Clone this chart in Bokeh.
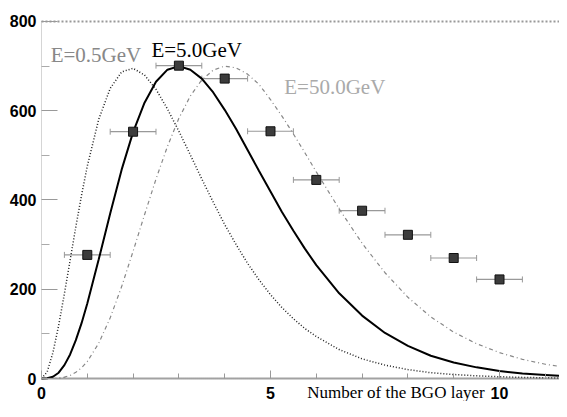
from bokeh.plotting import figure
from bokeh.models import (Range1d, FixedTicker, Label, Whisker, TeeHead,
                          ColumnDataSource, LinearAxis)
from bokeh.embed import file_html
from bokeh.resources import INLINE

# ---- data ----
layer = [1, 2, 3, 4, 5, 6, 7, 8, 9, 10]
layer_err = [0.5, 0.5, 0.5, 0.5, 0.5, 0.5, 0.5, 0.5, 0.5, 0.5]
measured = [277, 553, 701, 672, 554, 445, 376, 322, 270, 222]

curve_x = [0, 0.125, 0.25, 0.375, 0.5, 0.625, 0.75, 0.875, 1, 1.25, 1.5, 1.75,
           2, 2.25, 2.5, 2.75, 3, 3.25, 3.5, 3.75, 4, 4.25, 4.5, 4.75, 5, 5.25,
           5.5, 5.75, 6, 6.5, 7, 7.5, 8, 8.5, 9, 9.5, 10, 10.5, 11, 11.5]
curve_05 = [0, 15, 58, 119, 190, 265, 340, 411, 476, 581, 650, 687,
            695, 680, 648, 604, 554, 501, 447, 395, 345, 300, 258, 221, 188, 159,
            134, 112, 94, 65, 44, 30, 20, 13, 9, 6, 4, 2.5, 1.6, 1]
curve_5 = [0, 0.5, 4, 13, 30, 54, 86, 124, 168, 267, 370, 468,
           552, 618, 665, 692, 700, 692, 672, 641, 602, 559, 512, 465, 419, 373,
           331, 291, 254, 191, 141, 102, 73, 51, 36, 25, 17, 11, 8, 5]
curve_50 = [0, 0, 0, 1, 3, 7, 14, 24, 38, 79, 136, 206,
            285, 367, 447, 520, 583, 633, 669, 691, 700, 696, 682, 659, 625, 588,
            548, 506, 463, 380, 303, 237, 182, 138, 104, 78, 58, 43, 32, 24]

y_ticks = [0, 200, 400, 600, 800]
y_minor = [100, 300, 500, 700]
x_ticks = [0, 5, 10]
x_minor = [1, 2, 3, 4, 6, 7, 8, 9, 11]
x_max = 11.31
y_max = 800

# frame fills the whole canvas; axes are pinned at x=0 / y=0 inside it
p = figure(width=559, height=401, output_backend="svg", toolbar_location=None,
           x_range=Range1d(-0.895, x_max), y_range=Range1d(-51.5, 847),
           min_border_left=0, min_border_right=0, min_border_top=0,
           min_border_bottom=0)
p.xgrid.visible = False
p.ygrid.visible = False
p.outline_line_color = None
p.background_fill_color = "white"
p.border_fill_color = "white"

ya = p.yaxis[0]
ya.fixed_location = 0
ya.ticker = FixedTicker(ticks=y_ticks, minor_ticks=y_minor)
ya.bounds = (0, y_max)
ya.major_tick_in = 16
ya.major_tick_out = 0
ya.minor_tick_in = 8
ya.minor_tick_out = 0
ya.major_tick_line_color = "#999999"
ya.minor_tick_line_color = "#aaaaaa"
ya.axis_line_color = "#aaaaaa"
ya.axis_line_dash = "1 1"
ya.major_label_text_font = "Liberation Sans"
ya.major_label_text_font_style = "bold"
ya.major_label_text_font_size = "16px"
ya.major_label_text_color = "black"
ya.major_label_standoff = 5

xa = p.xaxis[0]
xa.fixed_location = 0
xa.bounds = (0, x_max)
xa.ticker = FixedTicker(ticks=x_ticks, minor_ticks=x_minor)
xa.major_tick_in = 8
xa.major_tick_out = 0
xa.minor_tick_in = 5
xa.minor_tick_out = 0
xa.major_tick_line_color = "#999999"
xa.minor_tick_line_color = "#999999"
xa.axis_line_color = "#444444"
xa.axis_line_width = 2
xa.axis_line_dash = "1 1"
xa.major_label_text_font = "Liberation Sans"
xa.major_label_text_font_style = "bold"
xa.major_label_text_font_size = "16px"
xa.major_label_text_color = "black"
xa.major_label_standoff = 8

top = LinearAxis(fixed_location=y_max, bounds=(0, x_max),
                 ticker=FixedTicker(ticks=[]), major_label_text_font_size="0px",
                 axis_line_color="#999999", axis_line_width=2,
                 axis_line_dash="2 2", major_tick_line_color=None,
                 minor_tick_line_color=None)
p.add_layout(top, "above")

p.line(curve_x, curve_05, line_color="#222222", line_width=1.5, line_dash="1 2")
p.line(curve_x, curve_5, line_color="black", line_width=2)
p.line(curve_x, curve_50, line_color="#888888", line_width=1.2, line_dash="4 3 1 3")

src = ColumnDataSource(dict(
    x=layer, y=measured,
    lo=[a - e for a, e in zip(layer, layer_err)],
    hi=[a + e for a, e in zip(layer, layer_err)]))
p.add_layout(Whisker(source=src, base="y", lower="lo", upper="hi",
                     dimension="width", line_color="#999999", line_width=1.2,
                     lower_head=TeeHead(size=6, line_color="#999999"),
                     upper_head=TeeHead(size=6, line_color="#999999")))
p.scatter("x", "y", source=src, marker="square", size=9,
          fill_color="#3c3c3c", line_color="#111111")

for txt, x, y, col in [("E=0.5GeV", 0.2, 724, "#888888"),
                       ("E=5.0GeV", 2.4, 735, "black"),
                       ("E=50.0GeV", 5.3, 654, "#aaaaaa")]:
    p.add_layout(Label(x=x, y=y, text=txt, text_font="Liberation Serif",
                       text_font_size="21px", text_color=col,
                       text_baseline="alphabetic"))

p.add_layout(Label(x=5.8, y=-31, text="Number of the BGO layer",
                   text_font="Liberation Serif", text_font_size="17px",
                   text_color="black", text_baseline="alphabetic"))

open("out.html", "w").write(file_html(p, INLINE))
